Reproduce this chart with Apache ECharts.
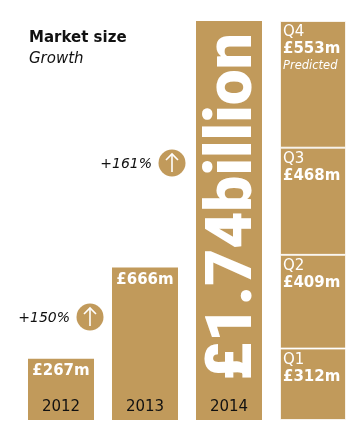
<!DOCTYPE html>
<html>
<head>
<meta charset="utf-8">
<script src="https://cdn.jsdelivr.net/npm/echarts@6/dist/echarts.min.js"></script>
<style>
html,body{margin:0;padding:0;background:#fff;}
#c{width:362px;height:434px;}
</style>
</head>
<body>
<div id="c"></div>
<script>
const categories = ['2012', '2013', '2014', ''];
const annualValues = [267, 666, 1742];
const annualLabels = ['£267m', '£666m', '£1.74billion'];
const quarterNames = ['Q1', 'Q2', 'Q3', 'Q4'];
const quarterValues = [312, 409, 468, 553];
const quarterAmounts = ['£312m', '£409m', '£468m', '£553m'];
const quarterNotes = ['', '', '', 'Predicted'];
const growthLabels = ['+150%', '+161%'];
const titleText = 'Market size';
const subtitleText = 'Growth';

const GOLD = '#c19a5b';
const FONT = 'DejaVu Sans';

const chart = echarts.init(document.getElementById('c'), null, {renderer: 'canvas'});

const annualData = annualValues.map((v, i) => {
  if (i === 2) {
    return {
      value: v,
      label: {
        show: true,
        rotate: 90,
        position: ['59%', '46.6%'],
        align: 'center',
        verticalAlign: 'middle',
        fontFamily: 'Roboto',
        fontWeight: 900,
        fontSize: 64,
        color: '#fff'
      }
    };
  }
  return v;
}).concat(['-']);

const series = [{
  type: 'bar',
  name: 'annual',
  data: annualData,
  barWidth: 66,
  barGap: '-100%',
  itemStyle: {color: GOLD},
  label: {
    show: true,
    position: 'insideTop',
    distance: 5,
    formatter: p => annualLabels[p.dataIndex],
    color: '#fff',
    fontFamily: FONT,
    fontWeight: 'bold',
    fontSize: 15
  },
  silent: true
}];

quarterValues.forEach((v, qi) => {
  const data = categories.map((c, i) => i === 3 ? v : '-');
  const note = quarterNotes[qi];
  series.push({
    type: 'bar',
    name: quarterNames[qi],
    stack: 'q',
    data: data,
    barWidth: 66,
    barGap: '-100%',
    itemStyle: {color: GOLD, borderColor: 'rgba(255,255,255,0.75)', borderWidth: 1},
    label: {
      show: true,
      position: 'insideTopLeft',
      distance: 3,
      formatter: () => '{a|' + quarterNames[qi] + '}\n{b|' + quarterAmounts[qi] + '}' + (note ? '\n{c|' + note + '}' : ''),
      rich: {
        a: {fontFamily: FONT, fontSize: 15, color: '#fff', lineHeight: 17},
        b: {fontFamily: FONT, fontSize: 15, fontWeight: 'bold', color: '#fff', lineHeight: 17},
        c: {fontFamily: FONT, fontSize: 11.5, fontStyle: 'italic', color: '#fff', lineHeight: 16}
      }
    },
    silent: true
  });
});

function arrowCircle(cx, cy) {
  return {
    type: 'group',
    children: [
      {type: 'circle', shape: {cx: cx, cy: cy, r: 13.5}, style: {fill: GOLD}},
      {type: 'line', shape: {x1: cx, y1: cy + 9, x2: cx, y2: cy - 9}, style: {stroke: '#fff', lineWidth: 1.6}},
      {type: 'polyline', shape: {points: [[cx - 6, cy - 3], [cx, cy - 9], [cx + 6, cy - 3]]}, style: {stroke: '#fff', lineWidth: 1.6, fill: null}}
    ]
  };
}

chart.setOption({
  animation: false,
  backgroundColor: '#fff',
  grid: {left: 19, right: 7, top: 21, bottom: 14, containLabel: false},
  xAxis: {
    type: 'category',
    data: categories,
    axisLine: {show: false},
    axisTick: {show: false},
    axisLabel: {inside: true, margin: 5, color: '#111', fontFamily: FONT, fontSize: 15},
    z: 10
  },
  yAxis: {type: 'value', min: 0, max: 1742, show: false, splitLine: {show: false}},
  series: series,
  graphic: [
    {type: 'text', left: 29, top: 31, style: {text: titleText, fontFamily: FONT, fontWeight: 'bold', fontSize: 15, fill: '#111'}},
    {type: 'text', left: 29, top: 52, style: {text: subtitleText, fontFamily: FONT, fontStyle: 'italic', fontSize: 15, fill: '#111'}},
    {type: 'text', x: 70, y: 318, style: {text: growthLabels[0], fontFamily: FONT, fontStyle: 'italic', fontSize: 14, fill: '#111', align: 'right', verticalAlign: 'middle'}},
    {type: 'text', x: 152, y: 164, style: {text: growthLabels[1], fontFamily: FONT, fontStyle: 'italic', fontSize: 14, fill: '#111', align: 'right', verticalAlign: 'middle'}},
    arrowCircle(90, 317),
    arrowCircle(172, 163)
  ]
});
</script>
</body>
</html>
